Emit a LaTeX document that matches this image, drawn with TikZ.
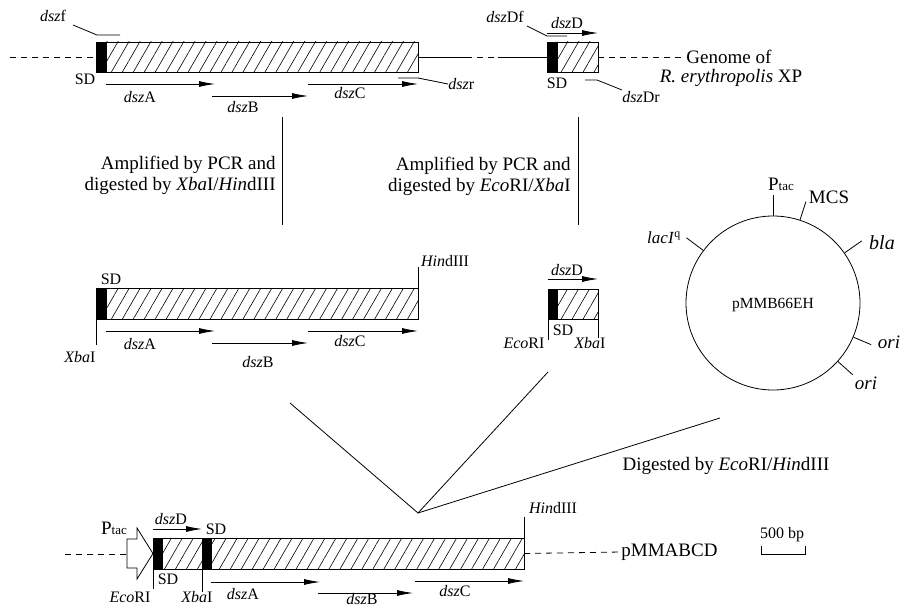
\documentclass[tikz,border=0pt]{standalone}
\usepackage{fontspec}
\setmainfont{Liberation Serif}
\usetikzlibrary{arrows.meta,patterns.meta,calc}
\begin{document}
\begin{tikzpicture}[x=1pt,y=-1pt,line width=0.8pt,
  lbl/.style={font=\fontsize{16}{18}\selectfont,inner sep=0pt},
  big/.style={font=\fontsize{19}{21}\selectfont,inner sep=0pt},
  box/.style={inner sep=0pt,outer sep=0pt,anchor=north west,minimum height=30pt},
  hatch/.style={box,draw,pattern={Lines[angle=60,distance=9.5pt,line width=0.6pt]}},
  sdbox/.style={box,draw,fill=black,minimum width=10pt},
  gene/.style={-{Latex[length=16pt,width=6pt]},line width=0.8pt},
  dashline/.style={dash pattern=on 6pt off 5pt},
  primer/.style={line width=0.8pt}]
\useasboundingbox (0,0) rectangle (900,607);

% ---------------- top row: genome ----------------
\node[sdbox] (t1sd) at (96,42) {};
\node[hatch,minimum width=312pt] (t1h) at (106,42) {};
\node[sdbox] (t2sd) at (547,42) {};
\node[hatch,minimum width=41pt] (t2h) at (557,42) {};
\coordinate (tL) at (10,57);
\coordinate (g1) at (466,57);
\coordinate (g2) at (498,57);
\draw[dashline] (tL) -- (t1sd.west);
\draw (t1h.east) -- (g1);
\draw[dashline] (g1) -- (g2);
\draw (g2) -- (t2sd.west);
\node[big,anchor=west] (genome) at (686,57) {Genome of};
\draw[dashline] (t2h.east) -- (genome.west);
\node[big] (rery) at (731,78) {\textit{R. erythropolis} XP};

\node[lbl] (dszf) at (53,16) {\textit{dsz}f};
\draw[primer] (73,25) -- (97,35) -- (120,35);
\node[lbl] (tsd1) at (85,79) {SD};
\draw[gene] (106,84) -- (215,84);
\node[lbl] (tA) at (140,97) {\textit{dsz}A};
\draw[gene] (212,96) -- (308,96);
\node[lbl] (tB) at (243,107) {\textit{dsz}B};
\draw[gene] (308,84) -- (418,84);
\node[lbl] (tC) at (350,93) {\textit{dsz}C};
\node[lbl,anchor=west] (dszr) at (448,84) {\textit{dsz}r};
\draw[primer] (398,78) -- (418,78) -- (dszr.west);

\node[lbl] (dszDf) at (505,17) {\textit{dsz}Df};
\draw[primer] (dszDf.east) ++(3,9) -- (547,36) -- (567,36);
\draw[gene] (547,33) -- (598,33);
\node[lbl] (tD) at (567,23) {\textit{dsz}D};
\node[lbl] (tsd2) at (557,83) {SD};
\node[lbl] (dszDr) at (641,97) {\textit{dsz}Dr};
\draw[primer] (585,80) -- (597,80) -- (622,90);

% ---------------- PCR arrows ----------------
\coordinate (v1a) at (282,117); \coordinate (v1b) at (282,225);
\coordinate (v2a) at (578,117); \coordinate (v2b) at (578,225);
\draw (v1a) -- (v1b);
\draw (v2a) -- (v2b);
\node[big,align=right,anchor=east] (amp1) at (276,175) {Amplified by PCR and\\digested by \textit{Xba}I/\textit{Hin}dIII};
\node[big,align=right,anchor=east] (amp2) at (571,176) {Amplified by PCR and\\digested by \textit{Eco}RI/\textit{Xba}I};

% ---------------- middle left fragment ----------------
\node[sdbox,minimum height=31pt] (m1sd) at (96,288) {};
\node[hatch,minimum width=312pt,minimum height=31pt] (m1h) at (106,288) {};
\node[lbl] (msd1) at (111,279) {SD};
\draw (m1sd.south west) -- ++(0,26);
\node[lbl] (mxba) at (80,357) {\textit{Xba}I};
\draw (m1h.north east) -- ++(0,-21);
\node[lbl] (mhind) at (445,261) {\textit{Hin}dIII};
\draw[gene] (106,331) -- (215,331);
\node[lbl] (mA) at (140,344) {\textit{dsz}A};
\draw[gene] (212,343) -- (308,343);
\node[lbl] (mB) at (258,362) {\textit{dsz}B};
\draw[gene] (308,331) -- (418,331);
\node[lbl] (mC) at (350,341) {\textit{dsz}C};

% ---------------- middle right fragment ----------------
\node[sdbox,minimum width=9pt] (m2sd) at (548,289) {};
\node[hatch,minimum width=41pt] (m2h) at (557,289) {};
\draw[gene] (548,279) -- (598,279);
\node[lbl] (mD) at (567,270) {\textit{dsz}D};
\node[lbl] (msd2) at (563,330) {SD};
\draw (m2sd.south west) -- ++(0,21);
\draw (m2h.south east) -- ++(0,19);
\node[lbl] (meco) at (524,343) {\textit{Eco}RI};
\node[lbl] (mxba2) at (590,343) {\textit{Xba}I};

% ---------------- plasmid ----------------
\node[draw,circle,minimum size=174pt,inner sep=0pt] (plas) at (773,303) {};
\node[font=\fontsize{15.5}{17}\selectfont,inner sep=0pt] (pname) at (773,305) {pMMB66EH};
\draw (plas.90) -- ($(plas.center)!1.23!(plas.90)$);
\draw (plas.72) -- ($(plas.center)!1.22!(plas.72)$);
\draw (plas.143) -- ($(plas.center)!1.24!(plas.143)$);
\draw (plas.35) -- ($(plas.center)!1.24!(plas.35)$);
\draw (plas.-23.5) -- ($(plas.center)!1.22!(plas.-23.5)$);
\draw (plas.-42) -- ($(plas.center)!1.23!(plas.-42)$);
\node[big] (pptac) at (781,184) {P{\fontsize{13}{14}\selectfont tac}};
\node[big] (pmcs) at (829,197) {MCS};
\node[lbl,font=\fontsize{17}{19}\selectfont] (placi) at (664,238) {\textit{lacI}\textsuperscript{q}};
\node[big,font=\fontsize{20}{22}\selectfont] (pbla) at (882,243) {\textit{bla}};
\node[big] (pori1) at (889,342) {\textit{ori}};
\node[big] (pori2) at (866,383) {\textit{ori}};

% ---------------- ligation ----------------
\coordinate (mt) at (418,513);
\coordinate (c1) at (290,403);
\coordinate (c2) at (548,372);
\coordinate (c3) at (720,418);
\draw (c1) -- (mt) -- (c2);
\draw (mt) -- (c3);
\node[big] (dig) at (726,466) {Digested by \textit{Eco}RI/\textit{Hin}dIII};

% ---------------- bottom construct ----------------
\node[sdbox,minimum width=9pt,minimum height=31pt] (bsd1) at (153,538) {};
\node[hatch,minimum width=40pt,minimum height=31pt] (bh1) at (162,538) {};
\node[sdbox,minimum width=9pt,minimum height=31pt] (bsd2) at (202,538) {};
\node[hatch,minimum width=313pt,minimum height=31pt] (bh2) at (211,538) {};
\draw[fill=white] (127,539) -- (137,539) -- (137,528) -- (bsd1.west) -- (137,579) -- (137,568) -- (127,568) -- cycle;
\coordinate (bL) at (65,554);
\coordinate (bP) at (127,554);
\draw[dashline] (bL) -- (bP);
\node[big,anchor=west] (pmma) at (621,552) {pMMABCD};
\draw[dashline] (bh2.east) -- (pmma.west);
\node[big] (bptac) at (114,528) {P{\fontsize{13}{14}\selectfont tac}};
\draw (bh2.north east) -- ++(0,-21);
\node[lbl] (bhind) at (553,508) {\textit{Hin}dIII};
\draw[gene] (153,529) -- (202,529);
\node[lbl] (bD) at (171,519) {\textit{dsz}D};
\node[lbl] (bsdt) at (216,529) {SD};
\node[lbl] (bsdb) at (168,579) {SD};
\draw (bsd1.south west) -- ++(0,20);
\node[lbl] (beco) at (130,597) {\textit{Eco}RI};
\draw (bsd2.south west) -- ++(0,23);
\node[lbl] (bxba) at (197,597) {\textit{Xba}I};
\draw[gene] (211,582) -- (320,582);
\node[lbl] (bA) at (243,594) {\textit{dsz}A};
\draw[gene] (318,593) -- (413,593);
\node[lbl] (bB) at (362,599) {\textit{dsz}B};
\draw[gene] (415,581) -- (524,581);
\node[lbl] (bC) at (455,591) {\textit{dsz}C};

% scale bar
\node[lbl] (sc) at (782,535) {500 bp};
\draw (761,546) -- (761,554) -- (805,554) -- (805,546);
\end{tikzpicture}
\end{document}
